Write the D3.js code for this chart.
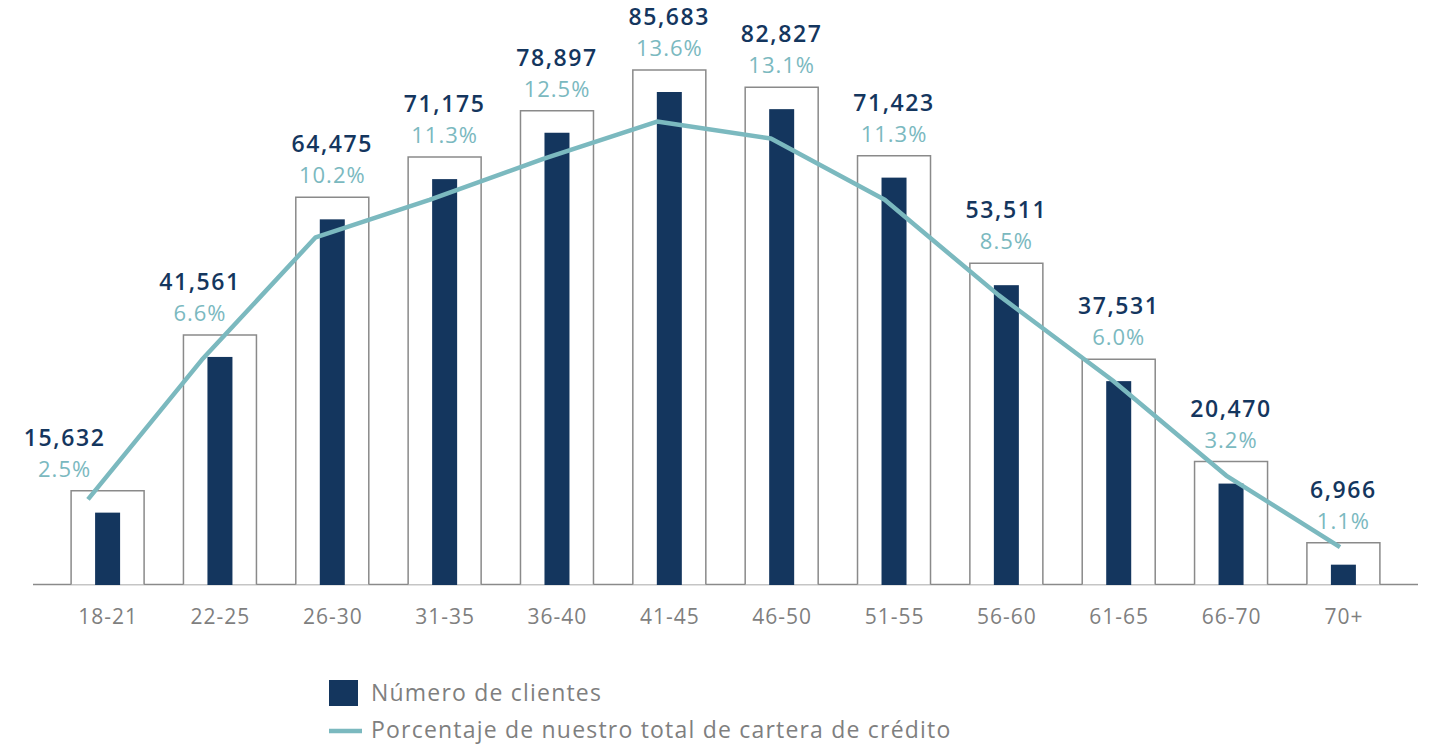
<!DOCTYPE html>
<html>
<head>
<meta charset="utf-8">
<script src="https://cdn.jsdelivr.net/npm/d3@7"></script>
<style>
  body { margin: 0; background: #fff; }
  svg { display: block; font-family: "Open Sans", sans-serif; }
</style>
</head>
<body>
<svg id="chart" width="1440" height="749"></svg>
<script>
var ageGroups = ["18-21", "22-25", "26-30", "31-35", "36-40", "41-45", "46-50", "51-55", "56-60", "61-65", "66-70", "70+"];
var clients = [15632, 41561, 64475, 71175, 78897, 85683, 82827, 71423, 53511, 37531, 20470, 6966];
var portfolioPct = [2.5, 6.6, 10.2, 11.3, 12.5, 13.6, 13.1, 11.3, 8.5, 6.0, 3.2, 1.1];
var legendLabels = ["Número de clientes", "Porcentaje de nuestro total de cartera de crédito"];

(function () {
  var navy = "#14365e", teal = "#7bb9bf", grey = "#8a8a8a", textGrey = "#7f7f7f";
  var svg = d3.select("#chart");
  var base = 584.5;

  var data = ageGroups.map(function (g, i) {
    return {group: g, clients: clients[i], pct: portfolioPct[i]};
  });

  var x = d3.scalePoint().domain(ageGroups).range([33, 1418]).padding(0.664);
  var xLine = d3.scalePoint().domain(ageGroups).range([88, 1340]);
  // boxes are zero based, the dark bars sit inset inside them
  var yBox = d3.scaleLinear().domain([0, 85683]).range([base, 70]);
  var yPct = d3.scaleLinear().domain([0, 17.17]).range([base, 0]);
  var inset = 22;
  var boxW = 73, barW = 25;

  // baseline
  svg.append("line")
    .attr("x1", 33).attr("x2", 1418)
    .attr("y1", base).attr("y2", base)
    .attr("stroke", grey).attr("stroke-width", 1.5);

  svg.append("g").selectAll("path")
    .data(data)
    .enter().append("path")
      .attr("d", function (d) {
        var l = x(d.group) - boxW / 2, r = x(d.group) + boxW / 2, t = yBox(d.clients);
        return "M" + l + "," + base + "V" + t + "H" + r + "V" + base;
      })
      .attr("fill", "#fff")
      .attr("stroke", grey)
      .attr("stroke-width", 1.5);

  svg.append("g").selectAll("rect")
    .data(data)
    .enter().append("rect")
      .attr("x", function (d) { return x(d.group) - barW / 2; })
      .attr("y", function (d) { return yBox(d.clients) + inset; })
      .attr("width", barW)
      .attr("height", function (d) { return base - yBox(d.clients) - inset + 0.5; })
      .attr("fill", navy);

  svg.append("path")
    .datum(data)
    .attr("fill", "none")
    .attr("stroke", teal)
    .attr("stroke-width", 4.5)
    .attr("stroke-linejoin", "round")
    .attr("d", d3.line()
      .x(function (d) { return xLine(d.group); })
      .y(function (d) { return yPct(d.pct); }));

  // the first two labels are nudged left of the line
  var shift = {"18-21": -43, "22-25": -20};
  var labels = svg.append("g").attr("text-anchor", "middle")
    .selectAll("g").data(data).enter().append("g")
      .attr("transform", function (d) {
        return "translate(" + (x(d.group) + (shift[d.group] || 0)) + "," + yBox(d.clients) + ")";
      });
  labels.append("text")
    .attr("y", -45)
    .attr("fill", navy)
    .attr("font-size", 23)
    .attr("font-weight", 600)
    .attr("letter-spacing", 1.6)
    .text(function (d) { return d3.format(",")(d.clients); });
  labels.append("text")
    .attr("y", -14)
    .attr("fill", teal)
    .attr("font-size", 22)
    .attr("letter-spacing", 1)
    .text(function (d) { return d.pct.toFixed(1) + "%"; });

  // x axis labels
  var axis = svg.append("g").attr("transform", "translate(0," + base + ")")
    .call(d3.axisBottom(x).tickSize(0).tickPadding(0));
  axis.select(".domain").remove();
  axis.selectAll("text")
    .attr("y", 39).attr("dy", null)
    .attr("fill", textGrey)
    .attr("font-family", "Open Sans, sans-serif")
    .attr("font-size", 21)
    .attr("letter-spacing", 1);

  // legend
  var legend = svg.append("g").attr("font-size", 23).attr("fill", textGrey);
  legend.append("rect").attr("x", 329).attr("y", 680).attr("width", 29).attr("height", 26).attr("fill", navy);
  legend.append("line").attr("x1", 329).attr("x2", 362).attr("y1", 731).attr("y2", 731)
    .attr("stroke", teal).attr("stroke-width", 4.5);
  legend.selectAll("text").data(legendLabels).enter().append("text")
    .attr("x", 371)
    .attr("y", function (d, i) { return 701 + i * 37; })
    .attr("letter-spacing", 1.2)
    .text(function (d) { return d; });
})();
</script>
</body>
</html>
